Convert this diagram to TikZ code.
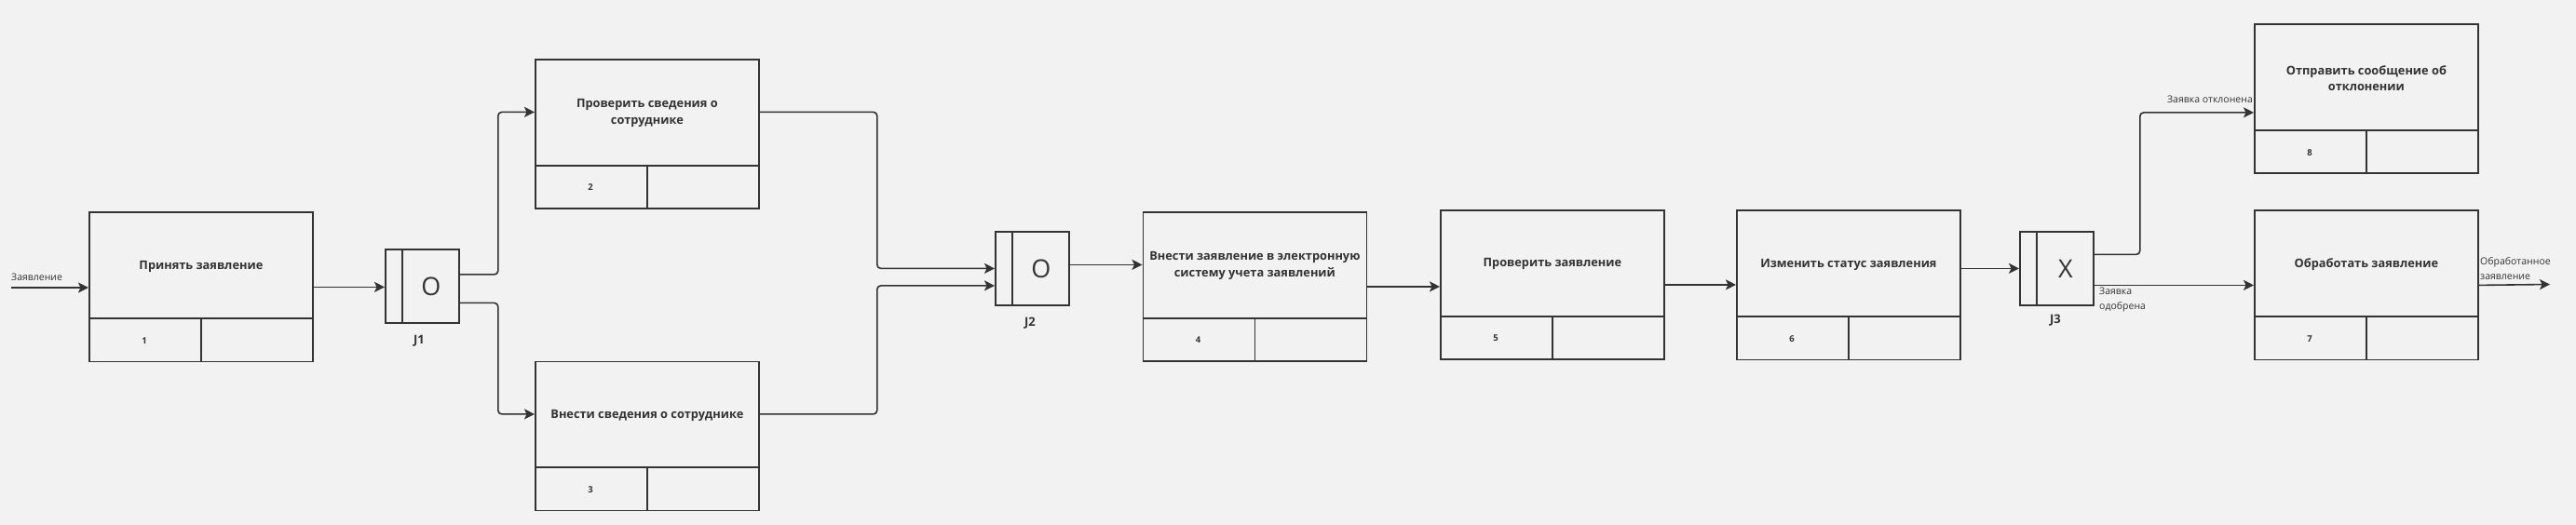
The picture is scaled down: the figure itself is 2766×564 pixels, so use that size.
\documentclass[tikz,border=0pt]{standalone}
\usepackage{fontspec}
\setmainfont{Open Sans}
\usetikzlibrary{arrows.meta,calc}
\definecolor{bg}{HTML}{F2F2F2}
\definecolor{ink}{HTML}{333333}
\tikzset{
 ln/.style={draw=ink, line width=1.8pt},
 abox/.style={ln, rectangle, minimum width=240pt, minimum height=160pt, inner sep=0pt, anchor=north west},
 jbox/.style={ln, rectangle, minimum width=79pt, minimum height=79pt, inner sep=0pt, anchor=north west},
 ttl/.style={text=ink, font=\fontsize{12.8}{17.5}\selectfont\bfseries, align=center, inner sep=0pt},
 numtxt/.style={text=ink, font=\fontsize{9.5}{11}\selectfont\bfseries, inner sep=0pt},
 jlet/.style={text=ink, font=\fontsize{27}{30}\selectfont, inner sep=0pt},
 jlab/.style={text=ink, font=\fontsize{13}{15}\selectfont\bfseries, inner sep=0pt},
 lbl/.style={text=ink, font=\fontsize{10.5}{16}\selectfont, inner sep=0pt, align=left},
 arr/.style={draw=ink, line width=1.6pt, -{Stealth[length=11pt,width=11pt,inset=2.5pt]}, rounded corners=4pt},
}
% name, left x, top y, title, number
\newcommand{\actbox}[5]{%
 \node[abox] (#1) at (#2,#3) {};
 \draw[ln] ([yshift=47pt]#1.south west) -- ([yshift=47pt]#1.south east);
 \draw[ln] (#1.south) -- ([yshift=47pt]#1.south);
 \node[ttl] (#1t) at ([yshift=-58.5pt]#1.north) {#4};
 \node[numtxt] (#1n) at ([xshift=60pt,yshift=23.5pt]#1.south west) {#5};
 \coordinate (#1in) at ([yshift=23.5pt]#1.west);
 \coordinate (#1out) at ([yshift=23.5pt]#1.east);
}
% name, left x, top y, letter
\newcommand{\juncbox}[4]{%
 \node[jbox] (#1) at (#2,#3) {};
 \draw[ln] ([xshift=19pt]#1.north west) -- ([xshift=19pt]#1.south west);
 \node[jlet] (#1l) at ([xshift=9.5pt]#1.center) {#4};
}
\begin{document}
\begin{tikzpicture}[x=1pt,y=-1pt]
\fill[bg] (0,0) rectangle (2766,564);
\useasboundingbox (0,0) rectangle (2766,564);

\actbox{b1}{95}{227.5}{Принять заявление}{1}
\actbox{b2}{574}{63}{Проверить сведения о\\сотруднике}{2}
\actbox{b3}{574}{387.5}{Внести сведения о сотруднике}{3}
\actbox{b4}{1226.5}{227}{Внести заявление в электронную\\систему учета заявлений}{4}
\actbox{b5}{1546}{225}{Проверить заявление}{5}
\actbox{b6}{1864}{225.5}{Изменить статус заявления}{6}
\actbox{b8}{2420}{25.5}{Отправить сообщение об\\отклонении}{8}
\actbox{b7}{2420}{225.5}{Обработать заявление}{7}

\juncbox{j1}{413}{267}{O}
\juncbox{j2}{1068}{248}{O}
\juncbox{j3}{2168}{248}{X}
\node[jlab] (j1lab) at (450,366) {J1};
\node[jlab] (j2lab) at (1106,347) {J2};
\node[jlab] (j3lab) at (2207,344) {J3};

% connectors
\coordinate (in0) at (12,309);
\draw[arr] (in0) -- (in0 -| b1.west);
\node[lbl, anchor=west] (linp) at (12,298) {Заявление};

\draw[arr] (b1.east) -- (b1.east -| j1.west);
\draw[arr] ([yshift=12.5pt]j1.east) -- ++(41,0) |- (b2in);
\draw[arr] ([yshift=-18pt]j1.east) -- ++(41,0) |- (b3in);
\draw[arr] (b2out) -- ++(126,0) |- (j2.west);
\draw[arr] (b3out) -- ++(126,0) |- ([yshift=-18.5pt]j2.west);
\draw[arr] (j2.east |- b4in) -- (b4in);
\draw[arr] (b4.east) -- (b4.east -| b5.west);
\draw[arr] (b5.east) -- (b5.east -| b6.west);
\draw[arr] (b6.east |- j3.west) -- (j3.west);
\draw[arr] ([yshift=15pt]j3.east) -- ++(49,0) |- ([yshift=-14.5pt]b8.west);
\draw[arr] (j3.east |- b7.west) -- (b7.west);
\coordinate (out7) at (2738,305.5);
\draw[arr] (b7.east) -- (out7);

\node[lbl, anchor=east] (lrej) at (2419,106.5) {Заявка отклонена};
\node[lbl, anchor=north west] (lacc) at (2254,309) {Заявка\\одобрена};
\node[lbl, anchor=south west] (lout) at (2663,301) {Обработанное\\заявление};
\end{tikzpicture}
\end{document}
